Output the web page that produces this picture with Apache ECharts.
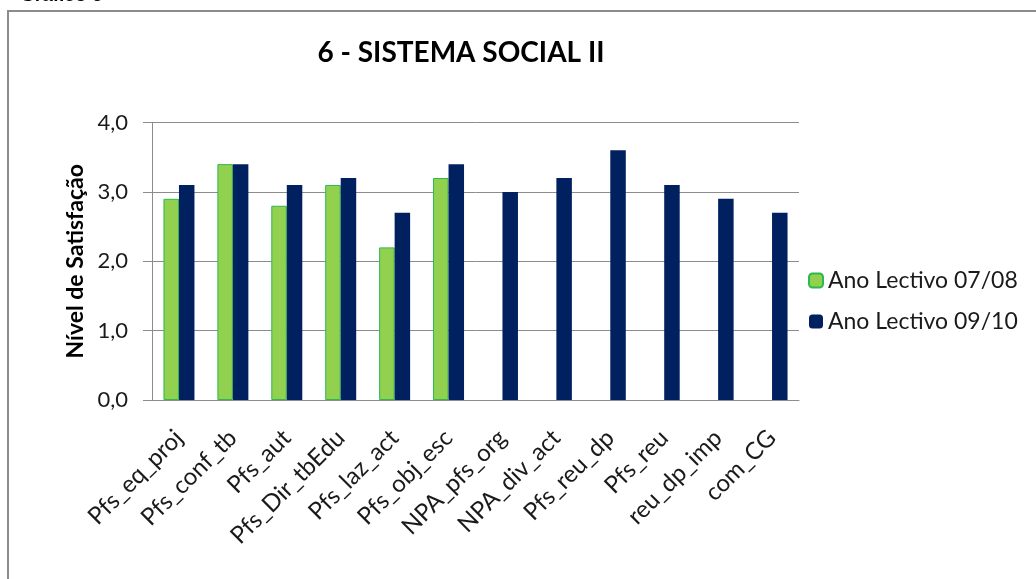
<!DOCTYPE html>
<html>
<head>
<meta charset="utf-8">
<script src="https://cdn.jsdelivr.net/npm/echarts@6/dist/echarts.min.js"></script>
<style>html,body{margin:0;padding:0;background:#fff}#c{width:1036px;height:579px}</style>
</head>
<body>
<div id="c"></div>
<script>
const categories = ['Pfs_eq_proj','Pfs_conf_tb','Pfs_aut','Pfs_Dir_tbEdu','Pfs_laz_act','Pfs_obj_esc','NPA_pfs_org','NPA_div_act','Pfs_reu_dp','Pfs_reu','reu_dp_imp','com_CG'];
const ano0708 = [2.9, 3.4, 2.8, 3.1, 2.2, 3.2, null, null, null, null, null, null];
const ano0910 = [3.1, 3.4, 3.1, 3.2, 2.7, 3.4, 3.0, 3.2, 3.6, 3.1, 2.9, 2.7];
const seriesNames = ['Ano Lectivo 07/08', 'Ano Lectivo 09/10'];
const titleText = '6 - SISTEMA SOCIAL II';
const yAxisName = 'Nível de Satisfação';
const captionText = 'Gráfico 6';

const font = 'Lato, "Open Sans", sans-serif';
const chart = echarts.init(document.getElementById('c'));
chart.setOption({
  animation: false,
  backgroundColor: '#fff',
  graphic: [
    { type: 'rect', shape: { x: 8, y: 11, width: 1100, height: 700 }, style: { fill: 'none', stroke: '#8c8c8c', lineWidth: 2 }, z: -1 },
    { type: 'text', left: 20, top: -14, style: { text: captionText, font: 'bold 19px "Liberation Sans", Arial, sans-serif', fill: '#000' } }
  ],
  title: {
    text: titleText, left: 456, top: 34, textAlign: 'center',
    textStyle: { fontFamily: font, fontSize: 28, fontWeight: 'bold', color: '#000' }
  },
  legend: {
    orient: 'vertical', left: 803, top: 264, itemWidth: 14, itemHeight: 14, itemGap: 18,
    textStyle: { fontFamily: font, fontSize: 23, color: '#1a1a1a' },
    data: seriesNames
  },
  grid: { left: 152, right: 237, top: 122.5, bottom: 179, containLabel: false },
  xAxis: {
    type: 'category', data: categories,
    axisLine: { lineStyle: { color: '#8c8c8c', width: 1 } },
    axisTick: { show: false },
    axisLabel: { rotate: 45, interval: 0, fontFamily: font, fontSize: 24, color: '#1a1a1a', margin: 34 }
  },
  yAxis: {
    type: 'value', min: 0, max: 4, interval: 1,
    name: yAxisName, nameLocation: 'middle', nameGap: 60,
    nameTextStyle: { fontFamily: font, fontSize: 23, fontWeight: 'bold', color: '#000' },
    axisLine: { show: true, lineStyle: { color: '#8c8c8c' } },
    axisTick: { show: true, length: 9, lineStyle: { color: '#8c8c8c' } },
    axisLabel: { fontFamily: font, fontSize: 22, color: '#1a1a1a', margin: 24, formatter: v => v.toFixed(1).replace('.', ',') },
    splitLine: { lineStyle: { color: '#8c8c8c' } }
  },
  series: [
    { name: seriesNames[0], type: 'bar', data: ano0708, barWidth: 15.5, barGap: '0%',
      itemStyle: { color: '#92D050', borderColor: '#2DB84E', borderWidth: 1 } },
    { name: seriesNames[1], type: 'bar', data: ano0910, barWidth: 15.5,
      itemStyle: { color: '#002060' } }
  ]
});
</script>
</body>
</html>
